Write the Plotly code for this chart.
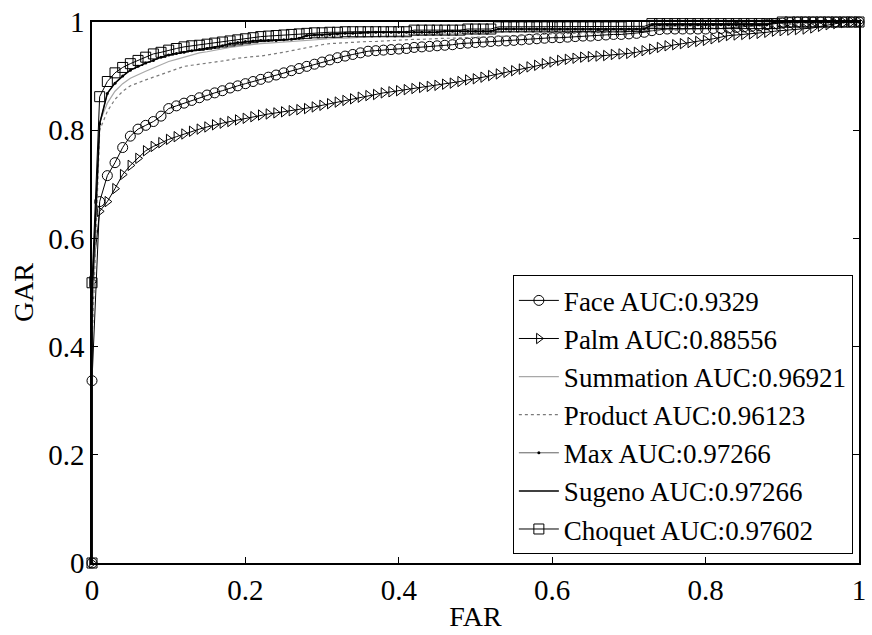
import plotly.graph_objects as go

# FAR grid: origin, the FAR=0 jump, then 0.01 .. 1.00
far = [0.0, 0.0,
       0.01, 0.02, 0.03, 0.04, 0.05, 0.06, 0.07, 0.08, 0.09, 0.10,
       0.11, 0.12, 0.13, 0.14, 0.15, 0.16, 0.17, 0.18, 0.19, 0.20,
       0.21, 0.22, 0.23, 0.24, 0.25, 0.26, 0.27, 0.28, 0.29, 0.30,
       0.31, 0.32, 0.33, 0.34, 0.35, 0.36, 0.37, 0.38, 0.39, 0.40,
       0.41, 0.42, 0.43, 0.44, 0.45, 0.46, 0.47, 0.48, 0.49, 0.50,
       0.51, 0.52, 0.53, 0.54, 0.55, 0.56, 0.57, 0.58, 0.59, 0.60,
       0.61, 0.62, 0.63, 0.64, 0.65, 0.66, 0.67, 0.68, 0.69, 0.70,
       0.71, 0.72, 0.73, 0.74, 0.75, 0.76, 0.77, 0.78, 0.79, 0.80,
       0.81, 0.82, 0.83, 0.84, 0.85, 0.86, 0.87, 0.88, 0.89, 0.90,
       0.91, 0.92, 0.93, 0.94, 0.95, 0.96, 0.97, 0.98, 0.99, 1.00]

face_gar = [0.0, 0.337,
    0.668, 0.716, 0.740, 0.768, 0.789, 0.802, 0.809, 0.816, 0.826, 0.840,
    0.845, 0.850, 0.855, 0.860, 0.865, 0.869, 0.873, 0.878, 0.882, 0.886,
    0.890, 0.894, 0.898, 0.902, 0.906, 0.910, 0.914, 0.918, 0.922, 0.926,
    0.930, 0.934, 0.937, 0.940, 0.943, 0.946, 0.947, 0.948, 0.949, 0.950,
    0.951, 0.953, 0.954, 0.955, 0.956, 0.957, 0.958, 0.960, 0.961, 0.962,
    0.963, 0.964, 0.965, 0.965, 0.966, 0.967, 0.968, 0.969, 0.970, 0.971,
    0.971, 0.972, 0.973, 0.974, 0.974, 0.975, 0.976, 0.977, 0.977, 0.978,
    0.979, 0.981, 0.984, 0.986, 0.987, 0.987, 0.987, 0.987, 0.987, 0.987,
    0.988, 0.988, 0.989, 0.990, 0.991, 0.992, 0.993, 0.995, 0.997, 0.998,
    0.999, 1.0, 1.0, 1.0, 1.0, 1.0, 1.0, 1.0, 1.0, 1.0]

palm_gar = [0.0, 0.52,
    0.650, 0.668, 0.692, 0.718, 0.735, 0.748, 0.762, 0.770, 0.777, 0.783,
    0.788, 0.793, 0.798, 0.802, 0.806, 0.810, 0.813, 0.816, 0.819, 0.822,
    0.825, 0.828, 0.830, 0.832, 0.834, 0.836, 0.838, 0.840, 0.843, 0.846,
    0.849, 0.852, 0.855, 0.858, 0.861, 0.864, 0.866, 0.869, 0.871, 0.873,
    0.875, 0.877, 0.879, 0.881, 0.883, 0.885, 0.887, 0.890, 0.893, 0.895,
    0.898, 0.901, 0.904, 0.907, 0.910, 0.913, 0.917, 0.920, 0.923, 0.926,
    0.929, 0.931, 0.933, 0.935, 0.936, 0.937, 0.938, 0.940, 0.941, 0.942,
    0.944, 0.947, 0.950, 0.953, 0.956, 0.958, 0.960, 0.962, 0.964, 0.966,
    0.969, 0.972, 0.975, 0.976, 0.977, 0.978, 0.979, 0.981, 0.983, 0.984,
    0.985, 0.986, 0.987, 0.989, 0.992, 0.995, 0.997, 0.999, 1.0, 1.0]

summation_gar = [0.0, 0.42,
    0.815, 0.850, 0.872, 0.886, 0.896, 0.903, 0.909, 0.915, 0.921, 0.927,
    0.931, 0.935, 0.939, 0.943, 0.945, 0.948, 0.951, 0.953, 0.955, 0.957,
    0.959, 0.960, 0.961, 0.962, 0.964, 0.965, 0.966, 0.967, 0.967, 0.968,
    0.969, 0.970, 0.970, 0.971, 0.972, 0.973, 0.973, 0.974, 0.974, 0.975,
    0.975, 0.976, 0.976, 0.977, 0.977, 0.978, 0.978, 0.979, 0.979, 0.980,
    0.980, 0.981, 0.981, 0.982, 0.982, 0.983, 0.983, 0.984, 0.984, 0.985,
    0.985, 0.985, 0.986, 0.986, 0.986, 0.987, 0.987, 0.987, 0.988, 0.988,
    0.988, 0.989, 0.990, 0.991, 0.992, 0.992, 0.993, 0.993, 0.994, 0.994,
    0.995, 0.995, 0.996, 0.996, 0.997, 0.997, 0.998, 0.998, 0.999, 0.999,
    1.0, 1.0, 1.0, 1.0, 1.0, 1.0, 1.0, 1.0, 1.0, 1.0]

product_gar = [0.0, 0.40,
    0.800, 0.835, 0.857, 0.872, 0.882, 0.888, 0.893, 0.898, 0.903, 0.909,
    0.914, 0.918, 0.920, 0.922, 0.924, 0.925, 0.927, 0.930, 0.933, 0.935,
    0.936, 0.937, 0.939, 0.941, 0.944, 0.947, 0.950, 0.953, 0.956, 0.958,
    0.960, 0.961, 0.962, 0.962, 0.963, 0.964, 0.964, 0.965, 0.965, 0.966,
    0.967, 0.968, 0.968, 0.969, 0.969, 0.970, 0.970, 0.971, 0.971, 0.972,
    0.972, 0.973, 0.973, 0.974, 0.974, 0.975, 0.975, 0.976, 0.977, 0.978,
    0.978, 0.979, 0.979, 0.980, 0.980, 0.980, 0.981, 0.981, 0.982, 0.982,
    0.983, 0.983, 0.984, 0.984, 0.985, 0.985, 0.986, 0.987, 0.987, 0.988,
    0.989, 0.989, 0.990, 0.991, 0.991, 0.992, 0.993, 0.993, 0.994, 0.995,
    0.996, 0.997, 0.997, 0.998, 0.998, 0.999, 0.999, 1.0, 1.0, 1.0]

max_gar = [0.0, 0.49,
    0.812, 0.868, 0.887, 0.900, 0.911, 0.918, 0.924, 0.929, 0.935, 0.939,
    0.942, 0.944, 0.947, 0.949, 0.951, 0.953, 0.956, 0.960, 0.962, 0.964,
    0.965, 0.966, 0.966, 0.966, 0.967, 0.968, 0.970, 0.975, 0.976, 0.976,
    0.977, 0.978, 0.979, 0.979, 0.980, 0.981, 0.981, 0.981, 0.981, 0.981,
    0.981, 0.981, 0.981, 0.981, 0.981, 0.983, 0.983, 0.983, 0.983, 0.983,
    0.983, 0.983, 0.987, 0.987, 0.987, 0.987, 0.987, 0.987, 0.987, 0.987,
    0.987, 0.987, 0.987, 0.987, 0.987, 0.987, 0.987, 0.987, 0.987, 0.987,
    0.987, 0.987, 0.995, 0.995, 0.995, 0.995, 0.995, 0.995, 0.995, 0.995,
    0.995, 0.995, 0.995, 0.995, 0.995, 0.995, 0.995, 0.995, 1.0, 1.0,
    1.0, 1.0, 1.0, 1.0, 1.0, 1.0, 1.0, 1.0, 1.0, 1.0]

# Sugeno has the same AUC as Max: the curves coincide
sugeno_gar = list(max_gar)

choquet_gar = [0.0, 0.518,
    0.862, 0.890, 0.906, 0.916, 0.923, 0.929, 0.935, 0.941, 0.944, 0.948,
    0.951, 0.954, 0.956, 0.957, 0.959, 0.961, 0.963, 0.965, 0.967, 0.969,
    0.971, 0.973, 0.974, 0.975, 0.976, 0.977, 0.978, 0.979, 0.980, 0.980,
    0.981, 0.981, 0.982, 0.982, 0.982, 0.982, 0.982, 0.982, 0.982, 0.982,
    0.982, 0.985, 0.985, 0.985, 0.985, 0.985, 0.985, 0.985, 0.987, 0.987,
    0.987, 0.987, 0.991, 0.991, 0.991, 0.991, 0.991, 0.991, 0.991, 0.991,
    0.991, 0.991, 0.991, 0.991, 0.991, 0.991, 0.991, 0.991, 0.991, 0.992,
    0.992, 0.992, 0.997, 0.997, 0.997, 0.997, 0.997, 0.997, 0.997, 0.997,
    0.997, 0.997, 0.997, 0.997, 0.997, 0.997, 0.997, 0.997, 0.997, 1.0,
    1.0, 1.0, 1.0, 1.0, 1.0, 1.0, 1.0, 1.0, 1.0, 1.0]

labels = ["Face AUC:0.9329", "Palm AUC:0.88556", "Summation AUC:0.96921",
          "Product AUC:0.96123", "Max AUC:0.97266", "Sugeno AUC:0.97266",
          "Choquet AUC:0.97602"]

x_ticks = [0, 0.2, 0.4, 0.6, 0.8, 1]
y_ticks = [0, 0.2, 0.4, 0.6, 0.8, 1]

FONT = "Liberation Serif, Times New Roman, serif"

fig = go.Figure()

fig.add_trace(go.Scatter(
    x=far, y=face_gar, name=labels[0], mode="lines+markers",
    line=dict(color="black", width=1),
    marker=dict(symbol="circle-open", size=10, color="black", line=dict(width=1)),
    cliponaxis=False))
fig.add_trace(go.Scatter(
    x=far, y=palm_gar, name=labels[1], mode="lines+markers",
    line=dict(color="black", width=1),
    marker=dict(symbol="triangle-right-open", size=9, color="black", line=dict(width=1)),
    cliponaxis=False))
fig.add_trace(go.Scatter(
    x=far, y=summation_gar, name=labels[2], mode="lines",
    line=dict(color="#a8a8a8", width=1.2), cliponaxis=False))
fig.add_trace(go.Scatter(
    x=far, y=product_gar, name=labels[3], mode="lines",
    line=dict(color="#7a7a7a", width=1.2, dash="dot"), cliponaxis=False))
fig.add_trace(go.Scatter(
    x=far, y=max_gar, name=labels[4], mode="lines+markers",
    line=dict(color="#606060", width=1),
    marker=dict(symbol="circle", size=3, color="black"),
    cliponaxis=False))
fig.add_trace(go.Scatter(
    x=far, y=sugeno_gar, name=labels[5], mode="lines",
    line=dict(color="black", width=1.5), cliponaxis=False))
fig.add_trace(go.Scatter(
    x=far, y=choquet_gar, name=labels[6], mode="lines+markers",
    line=dict(color="black", width=1),
    marker=dict(symbol="square-open", size=10, color="black", line=dict(width=1)),
    cliponaxis=False))

axis_common = dict(
    range=[0, 1], showgrid=False, zeroline=False,
    showline=True, linecolor="black", linewidth=1.5, mirror="allticks",
    ticks="inside", ticklen=6, tickwidth=1, tickcolor="black",
    tickfont=dict(family=FONT, size=29, color="black"),
)

fig.update_xaxes(tickvals=x_ticks, ticktext=[str(v) for v in x_ticks],
                 title=dict(text="FAR", font=dict(family=FONT, size=28, color="black"), standoff=2),
                 **axis_common)
fig.update_yaxes(tickvals=y_ticks, ticktext=[str(v) for v in y_ticks],
                 title=dict(text="GAR", font=dict(family=FONT, size=28, color="black"), standoff=6),
                 **axis_common)

fig.update_layout(
    width=872, height=635,
    margin=dict(l=92, r=6, t=16, b=72),
    paper_bgcolor="white", plot_bgcolor="white",
    font=dict(family=FONT, color="black"),
    legend=dict(
        x=0.992, y=0.016, xanchor="right", yanchor="bottom",
        bgcolor="white", bordercolor="black", borderwidth=1,
        font=dict(family=FONT, size=27, color="black"),
        itemwidth=40, tracegroupgap=0,
    ),
    showlegend=True,
)

fig.write_html("out.html")
